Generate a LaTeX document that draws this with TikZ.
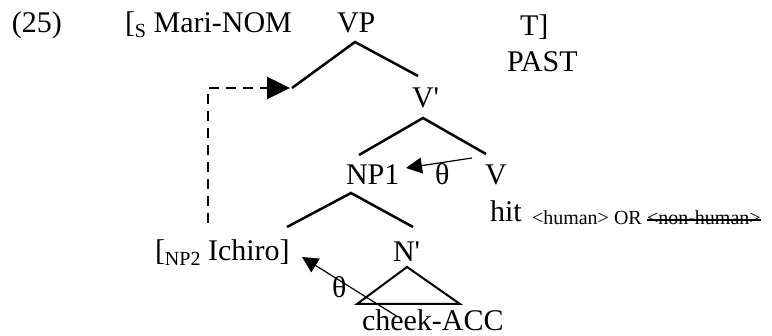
\documentclass[tikz,border=0pt]{standalone}
\usepackage{fontspec}
\setmainfont{Liberation Serif}[Ligatures=TeXOff]
\usetikzlibrary{arrows.meta}
\newcommand\lsub[1]{\raisebox{-5pt}{\fontsize{20}{24}\selectfont #1}}
\begin{document}
\begin{tikzpicture}[x=1pt,y=-1pt,
  lbl/.style={anchor=base west, inner sep=0pt, outer sep=0pt, font=\fontsize{30}{36}\selectfont},
  sm/.style={anchor=base west, inner sep=0pt, outer sep=0pt, font=\fontsize{20}{24}\selectfont},
  branch/.style={line width=2.5pt},
  thetaarrow/.style={line width=1.2pt, -{Triangle[length=16pt,width=16pt]}},
  dasharrow/.style={line width=2.5pt, dash pattern=on 10pt off 7pt, -{Triangle[length=23pt,width=22pt]}},
]
\useasboundingbox (0,0) rectangle (772,336);

% labels
\node[lbl] (n25) at (12,33) {(25)};
\node[lbl] (mari) at (125,33) {[\lsub{S} Mari-NOM};
\node[lbl] (vp) at (337,33) {VP};
\node[lbl] (t) at (520,36) {T]};
\node[lbl] (past) at (507,72) {PAST};
\node[lbl] (vbar) at (412,108) {V'};
\node[lbl] (np1) at (346,185) {NP1};
\node[lbl] (th1) at (435,185) {θ};
\node[lbl] (v) at (485,185) {V};
\node[lbl] (hit) at (490,222) {hit};
\node[sm] (feat) at (532,225) {<human> OR};
\node[sm] (nonhum) at (647,225) {<non-human>};
\node[lbl] (ichiro) at (155,261) {[\lsub{NP2} Ichiro]};
\node[lbl] (nbar) at (393,262) {N'};
\node[lbl] (th2) at (332,298) {θ};
\node[lbl] (cheek) at (362,331) {cheek-ACC};

% tree coordinates
\coordinate (vpA) at (355,42);
\coordinate (vpL) at (292,88);
\coordinate (vpR) at (418,76);
\coordinate (vbA) at (423,118);
\coordinate (vbL) at (359,155);
\coordinate (vbR) at (486,154);
\coordinate (npA) at (351,193);
\coordinate (npL) at (287,227);
\coordinate (npR) at (413,227);
\coordinate (triA) at (407,267);
\coordinate (triL) at (357,304);
\coordinate (triR) at (460,304);

\draw[branch] (vpL) -- (vpA) -- (vpR);
\draw[branch] (vbL) -- (vbA) -- (vbR);
\draw[branch] (npL) -- (npA) -- (npR);
\draw[line width=2pt] (triA) -- (triL) -- (triR) -- cycle;

% strike-through
\draw[line width=2pt] ([yshift=5pt]nonhum.base west) -- ([yshift=5pt]nonhum.base east);

% arrows
\coordinate (dStart) at (208,223);
\coordinate (dCorner) at (208,88);
\coordinate (dEnd) at (290,88);
\draw[dasharrow] (dStart) -- (dCorner) -- (dEnd);

\coordinate (a1s) at (472,158);
\coordinate (a1e) at (406,168);
\draw[thetaarrow] (a1s) -- (a1e);

\coordinate (a2s) at (398,317);
\coordinate (a2e) at (302,257);
\draw[thetaarrow] (a2s) -- (a2e);
\end{tikzpicture}
\end{document}
